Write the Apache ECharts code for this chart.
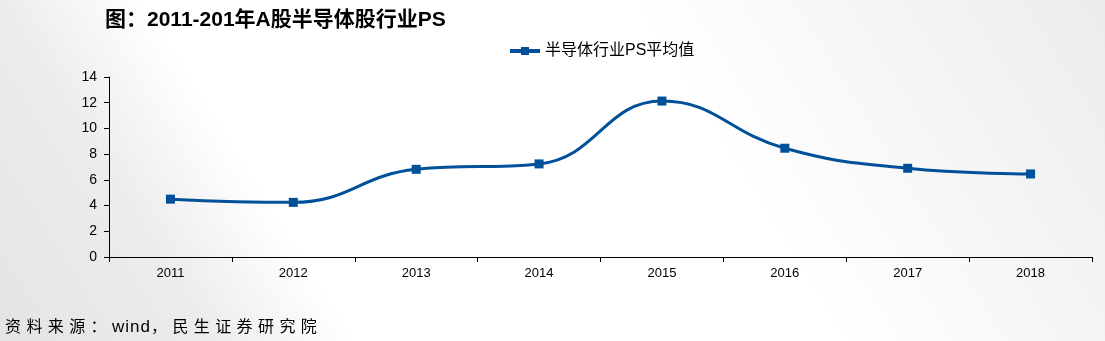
<!DOCTYPE html>
<html><head><meta charset="utf-8">
<script src="https://cdn.jsdelivr.net/npm/echarts@6/dist/echarts.min.js"></script>
<style>
html,body{margin:0;padding:0;}
body{position:relative;width:1105px;height:341px;overflow:hidden;background:linear-gradient(58deg,#e4e4e4 0%,#ececec 16%,#ffffff 27%,#ffffff 64%,#f5f5f5 82%,#ececec 100%);}
#c{width:1105px;height:341px;}
#src{position:absolute;left:5px;top:313px;font-family:"Noto Sans CJK SC","Liberation Sans",sans-serif;font-size:16px;letter-spacing:5.4px;color:#000;white-space:nowrap;}
#src span{letter-spacing:1px;font-family:"Liberation Sans",sans-serif;font-size:17px;}
</style></head>
<body><div id="c"></div><div id="src"></div>
<script>
const categories = ['2011','2012','2013','2014','2015','2016','2017','2018'];
const psValues = [4.50, 4.25, 6.82, 7.24, 12.13, 8.46, 6.90, 6.46];
const seriesName = '半导体行业PS平均值';
const titleText = '图：2011-201年A股半导体股行业PS';
const sourceParts = ['资料来源：', 'wind', '，民生证券研究院'];

const src = document.getElementById('src');
src.appendChild(document.createTextNode(sourceParts[0]));
const sp = document.createElement('span'); sp.textContent = sourceParts[1]; src.appendChild(sp);
src.appendChild(document.createTextNode(sourceParts[2]));

const chart = echarts.init(document.getElementById('c'));
const font = '"Liberation Sans", Arial, "Noto Sans CJK SC", sans-serif';
chart.setOption({
  backgroundColor: 'transparent',
  animation: false,
  title: [{
    text: titleText, left: 100, top: 5,
    textStyle: {fontSize: 21, fontWeight: 'bold', color: '#000', fontFamily: font}
  }],
  legend: {
    data: [{name: seriesName}],
    top: 38, left: 503,
    itemWidth: 30, itemHeight: 10, itemGap: 6,
    lineStyle: {width: 4},
    textStyle: {fontSize: 16, color: '#000', fontFamily: font, padding: [0,0,0,0]}
  },
  grid: {left: 109, right: 13, top: 77, bottom: 84},
  xAxis: {
    type: 'category', data: categories, boundaryGap: true,
    axisLine: {lineStyle: {color: '#000', width: 1}},
    axisTick: {show: true, inside: false, length: 5, lineStyle: {color: '#000'}},
    axisLabel: {color: '#000', fontSize: 13, margin: 10, fontFamily: font}
  },
  yAxis: {
    type: 'value', min: 0, max: 14, interval: 2,
    splitLine: {show: false},
    axisLine: {show: true, lineStyle: {color: '#000', width: 1}},
    axisTick: {show: true, length: 5, lineStyle: {color: '#000'}},
    axisLabel: {color: '#000', fontSize: 14, margin: 12, fontFamily: font}
  },
  series: [{
    name: seriesName, type: 'line', data: psValues, smooth: 0.45,
    symbol: 'rect', symbolSize: 9,
    lineStyle: {color: '#00519A', width: 3},
    itemStyle: {color: '#00519A'}
  }]
});
</script></body></html>
